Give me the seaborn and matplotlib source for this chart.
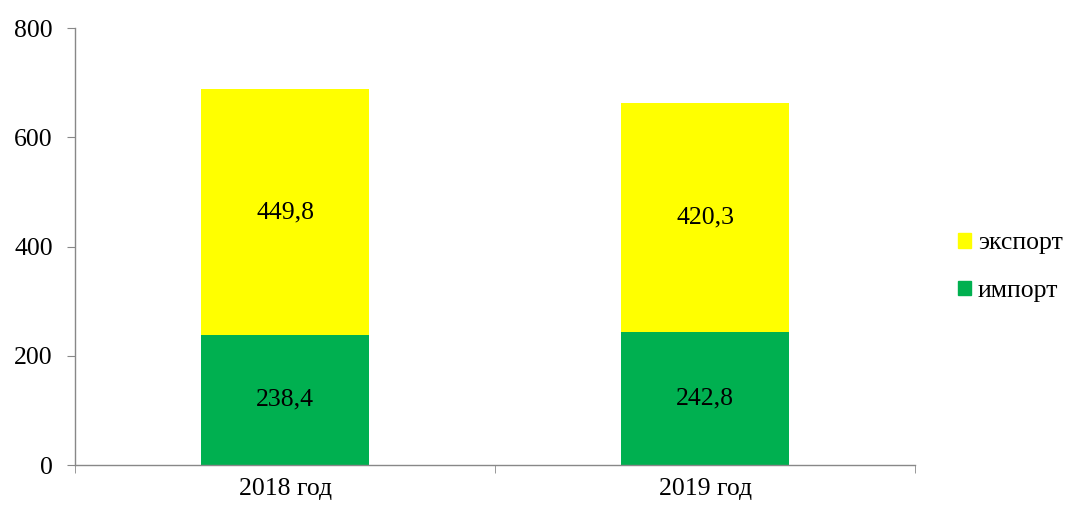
import matplotlib
matplotlib.use("Agg")
import matplotlib.pyplot as plt
import matplotlib.patches as mpatches
import numpy as np
import pandas as pd
import seaborn as sns

years = ["2018 год", "2019 год"]
imports = [238.4, 242.8]
exports = [449.8, 420.3]
series_names = ["экспорт", "импорт"]
y_ticks = [0, 200, 400, 600, 800]

YELLOW = "#FFFF00"
GREEN = "#00B050"
FS = 18.5
LEG_FS = 18.5

sns.set_style("white")
plt.rcParams["font.family"] = ["Liberation Serif", "DejaVu Serif"]
plt.rcParams["text.color"] = "black"

df = pd.DataFrame({"year": years, "import": imports, "export": exports})
df["total"] = df["import"] + df["export"]

fig = plt.figure(figsize=(10.69, 5.08), dpi=100)
ax = fig.add_axes([0.0702, 0.0846, 0.786, 0.860])

sns.barplot(data=df, x="year", y="total", color=YELLOW, width=0.4,
            saturation=1, linewidth=0, ax=ax)
sns.barplot(data=df, x="year", y="import", color=GREEN, width=0.4,
            saturation=1, linewidth=0, ax=ax)

for i, row in df.iterrows():
    ax.text(i, row["import"] / 2, f"{row['import']:.1f}".replace(".", ","),
            ha="center", va="center", fontsize=FS, color="black")
    ax.text(i, row["import"] + row["export"] / 2,
            f"{row['export']:.1f}".replace(".", ","),
            ha="center", va="center", fontsize=FS, color="black")

ax.set_xlim(-0.5, 1.5)
ax.set_ylim(0, 800)
ax.set_yticks(y_ticks)
ax.set_xlabel("")
ax.set_ylabel("")
ax.tick_params(axis="both", labelsize=FS, colors="black")
ax.tick_params(axis="x", length=0, pad=9)
ax.tick_params(axis="y", length=6, direction="out", color="#888888", left=True,
               pad=10)
ax.set_xticks([-0.5, 0.5, 1.5], minor=True)
ax.tick_params(axis="x", which="minor", length=6, color="#888888", bottom=True)

for side in ["top", "right"]:
    ax.spines[side].set_visible(False)
for side in ["left", "bottom"]:
    ax.spines[side].set_color("#888888")
    ax.spines[side].set_linewidth(1)

handles = [mpatches.Patch(color=YELLOW, label=series_names[0]),
           mpatches.Patch(color=GREEN, label=series_names[1])]
fig.legend(handles=handles, loc="center left", bbox_to_anchor=(0.896, 0.474),
           frameon=False, fontsize=LEG_FS, handlelength=0.5, handleheight=0.5,
           handletextpad=0.28, labelspacing=1.0, borderpad=0, borderaxespad=0)

fig.savefig("out.png", dpi=100)
